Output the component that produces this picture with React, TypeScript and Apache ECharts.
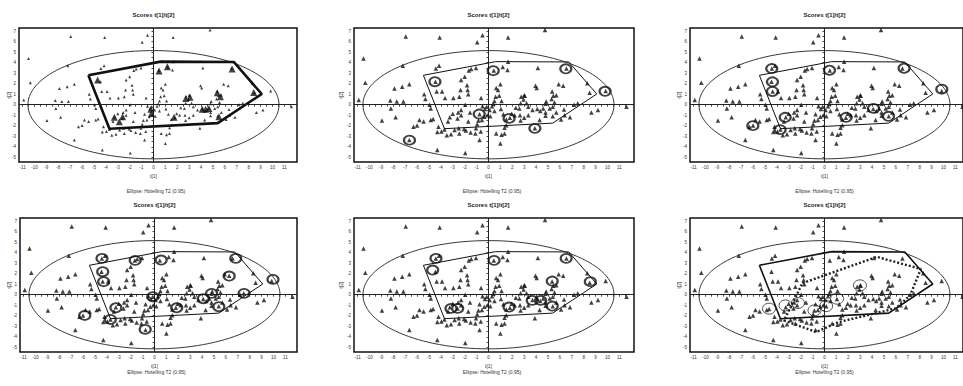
import React, { useEffect, useRef } from "react";
import * as echarts from "echarts";

// ---------- data ----------
const xTickLabels = [-11, -10, -9, -8, -7, -6, -5, -4, -3, -2, -1, 0, 1, 2, 3, 4, 5, 6, 7, 8, 9, 10, 11];
const yTickLabels = [-5, -4, -3, -2, -1, 0, 1, 2, 3, 4, 5, 6, 7];

const panelTitles = ["Scores t[1]/t[2]", "Scores t[1]/t[2]", "Scores t[1]/t[2]", "Scores t[1]/t[2]", "Scores t[1]/t[2]", "Scores t[1]/t[2]"];
const subtitleText = "Ellipse: Hotelling T2 (0.95)";
const xName = "t[1]";
const yName = "t[2]";

// Hotelling ellipse semi-axes
const ellipseA = 10.55;
const ellipseB = 5.15;

const scores: number[][] = [
  [-6.95, 6.5], [-4.1, 6.4], [-0.95, 5.95], [-0.5, 6.6], [1.65, 6.4], [4.75, 7.1],
  [-10.5, 4.4], [-7.2, 3.7], [-10.35, 2.1], [-7.9, 1.55], [-7.25, 1.7], [-6.65, 1.95],
  [-10.9, 0.45], [-8.25, 0.4], [-7.7, 0.3], [-7.15, 0.3], [-8.2, -0.35], [-7.8, -1.2], [-8.95, -1.5],
  [-6.65, -3.35], [-6.0, -1.97], [-4.3, -4.3], [-1.95, -4.6], [11.6, -0.2], [9.2, -0.5], [8.65, -0.75],
  [8.3, 2.05], [9.85, 1.3], [8.5, 1.15],
  [-4.42, 3.45], [-4.15, 3.7], [-4.45, 2.19], [-4.35, 1.25], [-3.9, 1.25], [-5.4, 1.0], [-5.3, 0.55],
  [-3.65, 0.65], [-2.95, 0.65], [-2.45, 0.75], [-2.35, 1.4], [-1.75, 1.4], [-1.7, 1.0], [-1.8, 1.85],
  [-2.3, 2.35], [-2.0, 2.65], [-1.65, 3.25], [-1.45, 3.4], [-1.05, 3.5], [-0.62, 0.65],
  [-4.95, 0.0], [-4.85, -0.35], [-5.8, -1.45], [-5.45, -1.6], [-4.85, -1.45], [-6.3, -2.1], [-4.2, -2.1],
  [-3.7, -2.35], [-4.3, -2.6], [-3.95, -2.55], [-3.5, -2.9], [-3.15, -2.8], [-2.85, -2.4], [-2.5, -2.25],
  [-3.4, -1.6], [-3.25, -1.2], [-2.6, -1.3], [-3.0, -0.85], [-2.55, -0.75], [-2.3, -1.0], [-2.3, -0.5],
  [-1.95, 0.0], [-1.55, -0.75], [-1.7, -1.6], [-2.05, -2.3], [-1.5, -2.65], [-1.1, -2.75], [-0.75, -3.35],
  [-0.65, -2.55], [-0.95, -1.85], [-0.55, -1.45], [-0.75, -0.9], [-0.35, -1.15], [-0.5, -0.15], [-0.3, -0.4],
  [-0.15, -0.2], [-4.65, -1.35], [-0.85, -1.5], [0.15, -1.1], [1.05, -0.4], [3.0, 0.9],
  [0.45, 3.25], [1.2, 3.6], [1.65, 4.1], [1.6, 3.3], [4.15, 3.5], [6.55, 3.45], [3.95, 1.8], [4.05, 1.6],
  [5.9, 1.95], [6.28, 1.8], [5.35, 1.25], [5.45, 0.85], [5.7, 0.9], [5.3, 0.55], [5.55, 0.2], [4.85, 0.3],
  [4.8, 0.1], [0.65, 1.6], [1.0, 1.95], [0.8, 1.4], [0.6, 0.75], [0.9, 0.85], [0.5, 0.35], [1.1, 0.35],
  [2.75, 0.75], [3.05, 0.85], [2.95, 0.5], [3.2, 0.15], [2.7, 0.15], [2.3, -0.3], [2.6, -0.35], [3.35, -0.2],
  [3.7, -0.5], [4.1, -0.4], [4.35, -0.6], [4.6, -0.35], [4.8, -0.75], [5.15, -0.35], [5.4, -0.2], [5.7, -0.75],
  [6.35, -0.45], [6.4, -1.0], [6.1, -1.4], [6.85, -1.2], [7.2, 0.0], [7.5, 0.15], [5.4, -1.1],
  [2.65, -1.0], [3.0, -1.25], [3.35, -1.0], [2.2, -1.0], [1.95, -0.85], [1.5, -1.4], [1.8, -1.25],
  [1.5, -1.95], [1.35, -2.2], [3.9, -2.25], [1.1, -2.85], [0.65, -2.75], [1.35, -2.75], [1.0, -3.7],
  [4.3, -1.45], [4.8, -1.05], [0.5, -0.6], [1.25, -0.9], [0.3, -0.15], [0.1, -0.5], [-0.1, -1.0], [0.4, 0.1],
  [2.7, -1.5], [-2.45, -2.75], [-1.9, -2.45], [-1.05, -2.25],
];

const hull: number[][] = [
  [-5.47, 2.8], [0.6, 4.1], [6.75, 4.07], [9.1, 1.02], [5.4, -1.75], [-3.7, -2.28], [-5.47, 2.8],
];

const innerHull: number[][] = [
  [-1.85, 1.1], [4.4, 3.6], [8.1, 2.45], [7.2, -0.05], [6.0, -1.3], [1.2, -2.6], [-0.7, -3.55], [-3.4, -2.45], [-1.85, 1.1],
];

const bigPoints1: number[][] = [
  [0.47, 3.21], [1.17, 3.62], [6.61, 3.4], [-4.69, 2.35], [5.36, 1.14], [5.63, 0.76], [8.42, 1.17],
  [2.71, 0.6], [3.07, 0.7], [-0.22, -0.44], [-0.17, -0.83], [1.73, -1.2], [4.1, -0.44], [4.38, -0.44],
  [4.66, -0.35], [5.5, -1.14], [-3.29, -1.2], [-2.87, -1.62], [-2.59, -1.14],
];

const circled2: number[][] = [
  [-4.5, 2.19], [0.4, 3.24], [6.5, 3.42], [9.8, 1.28], [-0.78, -0.89], [1.73, -1.3], [3.9, -2.25], [-6.64, -3.37],
];
const circled3: number[][] = [
  [-4.43, 3.44], [0.42, 3.28], [6.69, 3.47], [9.86, 1.48], [-4.37, 2.18], [-4.37, 1.26],
  [-3.3, -1.2], [-6.02, -1.99], [-3.73, -2.37], [1.82, -1.2], [4.12, -0.35], [5.38, -1.1],
];
const circled4: number[][] = [
  [-4.41, 3.46], [-1.62, 3.27], [0.56, 3.3], [6.83, 3.46], [-4.35, 2.19], [-4.27, 1.24], [6.28, 1.78],
  [9.96, 1.46], [-0.14, -0.19], [4.1, -0.38], [4.8, 0.13], [7.53, 0.13], [5.41, -1.14], [-3.24, -1.24],
  [1.87, -1.24], [-5.86, -1.97], [-3.71, -2.35], [-0.78, -3.3],
];
const circled5: number[][] = [
  [-4.41, 3.46], [0.47, 3.27], [6.53, 3.46], [-4.69, 2.35], [5.36, 1.3], [8.56, 1.24], [3.68, -0.54],
  [4.38, -0.54], [5.36, -1.08], [1.73, -1.17], [-3.15, -1.3], [-2.59, -1.3],
];
const circled6: number[][] = [
  [-4.66, -1.33], [-3.27, -1.02], [-2.23, -0.79], [-0.84, -1.49], [0.14, -1.08], [1.06, -0.38], [2.98, 0.89],
];

// ---------- layout ----------
const X_MIN = -11.3;
const Y_MIN = -5.45;
const Y_MAX = 7.3;
const PX_PER_X = 11.9;
const GRID_H = 134;

type Panel = {
  left: number; top: number; width: number;
  kind: "big" | "circle"; marks: number[][];
  hullWidth: number; circleWidth: number; circleSize: number[];
  inner?: boolean; yNameX: number;
};

const panels: Panel[] = [
  { left: 19, top: 28, width: 278, kind: "big", marks: bigPoints1, hullWidth: 2.6, circleWidth: 0, circleSize: [0, 0], yNameX: 9 },
  { left: 354, top: 28, width: 280, kind: "circle", marks: circled2, hullWidth: 1, circleWidth: 2, circleSize: [11, 9], yNameX: 341 },
  { left: 690, top: 28, width: 273, kind: "circle", marks: circled3, hullWidth: 1, circleWidth: 2, circleSize: [11, 9], yNameX: 679 },
  { left: 20, top: 218, width: 277, kind: "circle", marks: circled4, hullWidth: 1, circleWidth: 2, circleSize: [11, 9], yNameX: 9 },
  { left: 354, top: 218, width: 280, kind: "circle", marks: circled5, hullWidth: 1, circleWidth: 2, circleSize: [11, 9], yNameX: 341 },
  { left: 690, top: 218, width: 273, kind: "circle", marks: circled6, hullWidth: 1.6, circleWidth: 0.9, circleSize: [13, 11], inner: true, yNameX: 679 },
];

const FONT = "Liberation Sans, Arial, sans-serif";

function buildOption() {
  const xTickMarks = xTickLabels.flatMap((v) => [v, v + 0.5]).filter((v) => v <= 11.5);
  const yTickMarks = yTickLabels.flatMap((v) => [v, v + 0.5]).filter((v) => v <= 7);

  const grid: any[] = [];
  const xAxis: any[] = [];
  const yAxis: any[] = [];
  const series: any[] = [];
  const graphic: any[] = [];

  panels.forEach((p, i) => {
    const xMax = X_MIN + p.width / PX_PER_X;
    grid.push({
      left: p.left, top: p.top, width: p.width, height: GRID_H,
      show: true, borderColor: "#111", borderWidth: 1.5, backgroundColor: "transparent",
    });
    xAxis.push({
      gridIndex: i, type: "value", min: X_MIN, max: xMax,
      splitLine: { show: false },
      axisLine: { show: false },
      axisTick: { show: true, customValues: xTickMarks, length: 2, inside: false, lineStyle: { color: "#222", width: 0.8 } },
      axisLabel: { customValues: xTickLabels, fontSize: 4.5, color: "#333", margin: 3, fontFamily: FONT },
    });
    yAxis.push({
      gridIndex: i, type: "value", min: Y_MIN, max: Y_MAX,
      splitLine: { show: false },
      axisLine: { show: false },
      axisTick: { show: true, customValues: yTickMarks, length: 2, inside: false, lineStyle: { color: "#222", width: 0.8 } },
      axisLabel: { customValues: yTickLabels, fontSize: 4.5, color: "#333", margin: 3, fontFamily: FONT },
    });

    // ellipse
    series.push({
      type: "custom", xAxisIndex: i, yAxisIndex: i, data: [[0, 0]], silent: true, z: 2,
      renderItem: (_params: any, api: any) => {
        const c = api.coord([0, 0]);
        const e = api.coord([ellipseA, ellipseB]);
        return {
          type: "ellipse",
          shape: { cx: c[0], cy: c[1], rx: e[0] - c[0], ry: c[1] - e[1] },
          style: { fill: "none", stroke: "#222", lineWidth: 0.9 },
        };
      },
    });

    // scores
    series.push({
      type: "scatter", xAxisIndex: i, yAxisIndex: i, data: scores, symbol: "triangle",
      symbolSize: p.kind === "big" ? 3 : 4.5, itemStyle: { color: "#111" }, z: 3, silent: true,
      markLine: {
        silent: true, symbol: "none", label: { show: false },
        lineStyle: { color: "#222", width: 1, type: "solid" },
        data: [{ xAxis: 0 }, { yAxis: 0 }],
      },
    });

    // hull
    series.push({
      type: "line", xAxisIndex: i, yAxisIndex: i, data: hull, symbol: "none", z: 4, silent: true,
      lineStyle: { color: "#111", width: p.hullWidth },
    });

    if (p.inner) {
      series.push({
        type: "line", xAxisIndex: i, yAxisIndex: i, data: innerHull, symbol: "none", z: 4, silent: true,
        lineStyle: { color: "#222", width: 2.4, type: [2, 2] },
      });
    }

    if (p.kind === "big") {
      series.push({
        type: "scatter", xAxisIndex: i, yAxisIndex: i, data: p.marks, symbol: "triangle",
        symbolSize: 7, itemStyle: { color: "#111" }, z: 5, silent: true,
      });
    } else {
      series.push({
        type: "scatter", xAxisIndex: i, yAxisIndex: i, data: p.marks, symbol: "circle",
        symbolSize: p.circleSize,
        itemStyle: { color: "rgba(0,0,0,0)", borderColor: "#111", borderWidth: p.circleWidth },
        z: 5, silent: true,
      });
    }

    // texts
    const zeroX = p.left + (0 - X_MIN) * PX_PER_X;
    const centerX = p.left + p.width / 2;
    graphic.push({
      type: "text", x: zeroX, y: p.top - 13,
      style: { text: panelTitles[i], fontSize: 6, fontWeight: "bold", fill: "#222", align: "center", verticalAlign: "middle", fontFamily: FONT },
    });
    graphic.push({
      type: "text", x: zeroX, y: p.top + GRID_H + 14,
      style: { text: xName, fontSize: 5, fill: "#333", align: "center", verticalAlign: "middle", fontFamily: FONT },
    });
    graphic.push({
      type: "text", x: p.yNameX, y: p.top + GRID_H / 2, rotation: Math.PI / 2,
      style: { text: yName, fontSize: 5, fill: "#333", align: "center", verticalAlign: "middle", fontFamily: FONT },
    });
    graphic.push({
      type: "text", x: centerX - 2, y: p.top + GRID_H + 29 - (p.top > 100 ? 9 : 0),
      style: { text: subtitleText, fontSize: 5, fill: "#333", align: "center", verticalAlign: "middle", fontFamily: FONT },
    });
  });

  return {
    animation: false,
    backgroundColor: "#fff",
    grid, xAxis, yAxis, series, graphic,
  };
}

export default function App() {
  const ref = useRef<HTMLDivElement>(null);
  useEffect(() => {
    if (!ref.current) return;
    const chart = echarts.init(ref.current, undefined, { renderer: "svg" });
    chart.setOption(buildOption() as any);
    return () => chart.dispose();
  }, []);
  return <div ref={ref} style={{ position: "absolute", left: 0, top: 0, width: 963, height: 386 }} />;
}
